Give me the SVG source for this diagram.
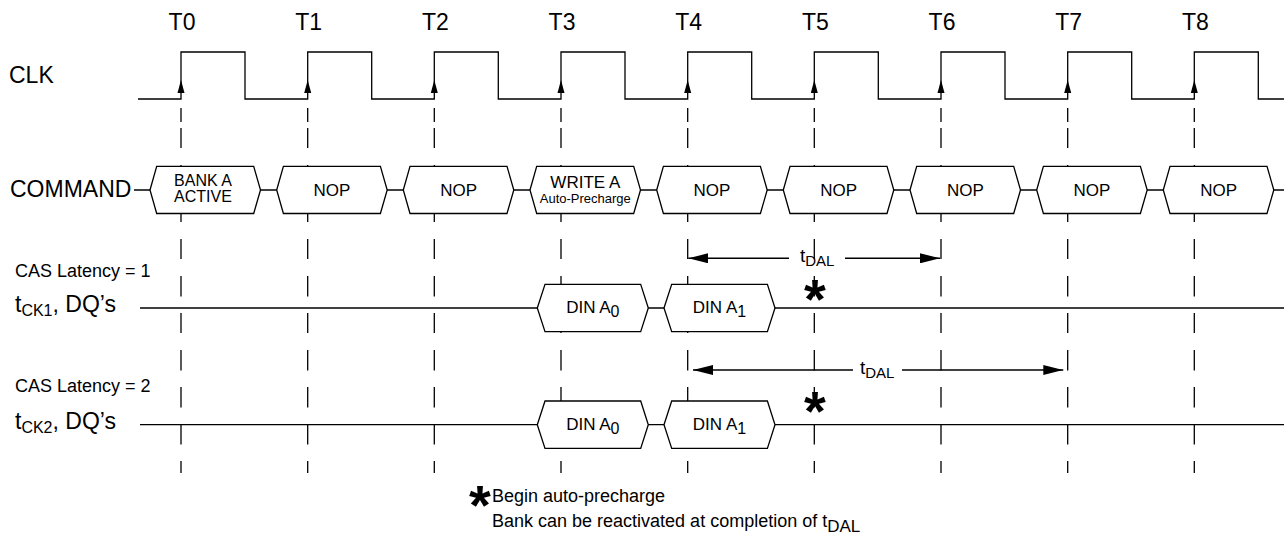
<svg xmlns="http://www.w3.org/2000/svg" width="1284" height="545" viewBox="0 0 1284 545">
<style>
text{font-family:"Liberation Sans",Arial,sans-serif;fill:#000}
.big{font-size:23px}
.hx{font-size:17px;text-anchor:middle}
.hx2{font-size:16px;text-anchor:middle}
.tiny{font-size:13px;text-anchor:middle}
.sm{font-size:18px}
.ft{font-size:18px}
.ln{fill:none;stroke:#000;stroke-width:1.3}
.hex{fill:#fff;stroke:#000;stroke-width:1.3}
.dash{fill:none;stroke:#000;stroke-width:1.3}
.ar{fill:none;stroke:#000;stroke-width:1.6}
.star{font-size:56px;font-weight:bold;text-anchor:middle}
</style>
<defs>
<path id="vd" class="dash" d="M0,108V122M0,128V148M0,165V185M0,202V222M0,239V259M0,276V296.5M0,313V333M0,350V370.5M0,387V407.5M0,424V444.5M0,461V473"/>
<polygon id="ck" points="0,80 -3.5,93 3.5,93" fill="#000"/>
<polygon id="hc" class="hex" points="-31,190 -24.3,166.3 72.7,166.3 79.5,190 72.7,213.5 -24.3,213.5"/>
<polygon id="hd" class="hex" points="-23.7,308 -16,284.3 79.7,284.3 87.3,308 79.7,331.7 -16,331.7"/>
<marker id="ah" viewBox="0 0 20 10" refX="20" refY="5" markerWidth="20" markerHeight="10" markerUnits="userSpaceOnUse" orient="auto"><path d="M0,0L20,5L0,10z" fill="#000"/></marker>
</defs>

<g id="time-labels" class="big" text-anchor="middle">
<text x="182" y="30">T0</text>
<text x="308.7" y="30">T1</text>
<text x="435.3" y="30">T2</text>
<text x="562" y="30">T3</text>
<text x="688.7" y="30">T4</text>
<text x="815.3" y="30">T5</text>
<text x="942" y="30">T6</text>
<text x="1068.7" y="30">T7</text>
<text x="1195.3" y="30">T8</text>
</g>

<g id="row-labels">
<text class="big" x="9" y="83">CLK</text>
<text class="big" x="10" y="197">COMMAND</text>
<text class="sm" x="15" y="277">CAS Latency = 1</text>
<text class="big" x="15" y="312">t<tspan font-size="16" dy="4">CK1</tspan><tspan dy="-4">, DQ’s</tspan></text>
<text class="sm" x="15" y="392">CAS Latency = 2</text>
<text class="big" x="15" y="429">t<tspan font-size="16" dy="4">CK2</tspan><tspan dy="-4">, DQ’s</tspan></text>
</g>

<g id="gridlines">
<use href="#vd" x="181"/><use href="#vd" x="307.7"/><use href="#vd" x="434.3"/><use href="#vd" x="561"/><use href="#vd" x="687.7"/><use href="#vd" x="814.3"/><use href="#vd" x="941"/><use href="#vd" x="1067.7"/><use href="#vd" x="1194.3"/>
</g>

<g id="clk">
<path class="ln" d="M138,99H181V52H245V99H307.7V52H371.7V99H434.3V52H498.3V99H561V52H625V99H687.7V52H751.7V99H814.3V52H878.3V99H941V52H1005V99H1067.7V52H1131.7V99H1194.3V52H1258.3V99H1284"/>
<use href="#ck" x="181"/><use href="#ck" x="307.7"/><use href="#ck" x="434.3"/><use href="#ck" x="561"/><use href="#ck" x="687.7"/><use href="#ck" x="814.3"/><use href="#ck" x="941"/><use href="#ck" x="1067.7"/><use href="#ck" x="1194.3"/>
</g>

<g id="connectors">
<path class="ln" d="M134,190H1284"/>
<path class="ln" d="M140,308H1284"/>
<path class="ln" d="M140,424.7H1284"/>
<path class="ar" d="M789,258.3H688.3" marker-end="url(#ah)"/>
<path class="ar" d="M845,258.3H940" marker-end="url(#ah)"/>
<path class="ar" d="M853,370H693" marker-end="url(#ah)"/>
<path class="ar" d="M902,370H1063.3" marker-end="url(#ah)"/>
</g>

<g id="cmd-bank-a-active"><use href="#hc" x="181"/><text class="hx2" x="203" y="186">BANK A</text><text class="hx2" x="203" y="202">ACTIVE</text></g>
<g id="cmd-nop-t1"><use href="#hc" x="307.7"/><text class="hx" x="332" y="196">NOP</text></g>
<g id="cmd-nop-t2"><use href="#hc" x="434.3"/><text class="hx" x="458.6" y="196">NOP</text></g>
<g id="cmd-write-a"><use href="#hc" x="561"/><text class="hx" x="585.3" y="188">WRITE A</text><text class="tiny" x="585.3" y="203">Auto-Precharge</text></g>
<g id="cmd-nop-t4"><use href="#hc" x="687.7"/><text class="hx" x="712" y="196">NOP</text></g>
<g id="cmd-nop-t5"><use href="#hc" x="814.3"/><text class="hx" x="838.6" y="196">NOP</text></g>
<g id="cmd-nop-t6"><use href="#hc" x="941"/><text class="hx" x="965.3" y="196">NOP</text></g>
<g id="cmd-nop-t7"><use href="#hc" x="1067.7"/><text class="hx" x="1092" y="196">NOP</text></g>
<g id="cmd-nop-t8"><use href="#hc" x="1194.3"/><text class="hx" x="1218.6" y="196">NOP</text></g>

<g id="dq1-din-a0"><use href="#hd" x="561"/><text class="hx" x="592.8" y="313">DIN A<tspan font-size="16" dy="4">0</tspan></text></g>
<g id="dq1-din-a1"><use href="#hd" x="687.7"/><text class="hx" x="719.5" y="313">DIN A<tspan font-size="16" dy="4">1</tspan></text></g>
<g id="dq2-din-a0"><use href="#hd" x="561" y="116.7"/><text class="hx" x="592.8" y="429.7">DIN A<tspan font-size="16" dy="4">0</tspan></text></g>
<g id="dq2-din-a1"><use href="#hd" x="687.7" y="116.7"/><text class="hx" x="719.5" y="429.7">DIN A<tspan font-size="16" dy="4">1</tspan></text></g>

<g id="tdal-labels">
<text x="800" y="262" font-size="19">t<tspan font-size="15" dy="4">DAL</tspan></text>
<text x="860" y="374" font-size="19">t<tspan font-size="15" dy="4">DAL</tspan></text>
</g>

<g id="asterisks">
<text class="star" x="815" y="318">*</text>
<text class="star" x="815" y="430">*</text>
</g>

<g id="footnote">
<text class="star" x="480" y="524">*</text>
<text class="ft" x="492" y="502">Begin auto-precharge</text>
<text class="ft" x="492" y="527">Bank can be reactivated at completion of t<tspan font-size="17" dy="5">DAL</tspan></text>
</g>
</svg>
